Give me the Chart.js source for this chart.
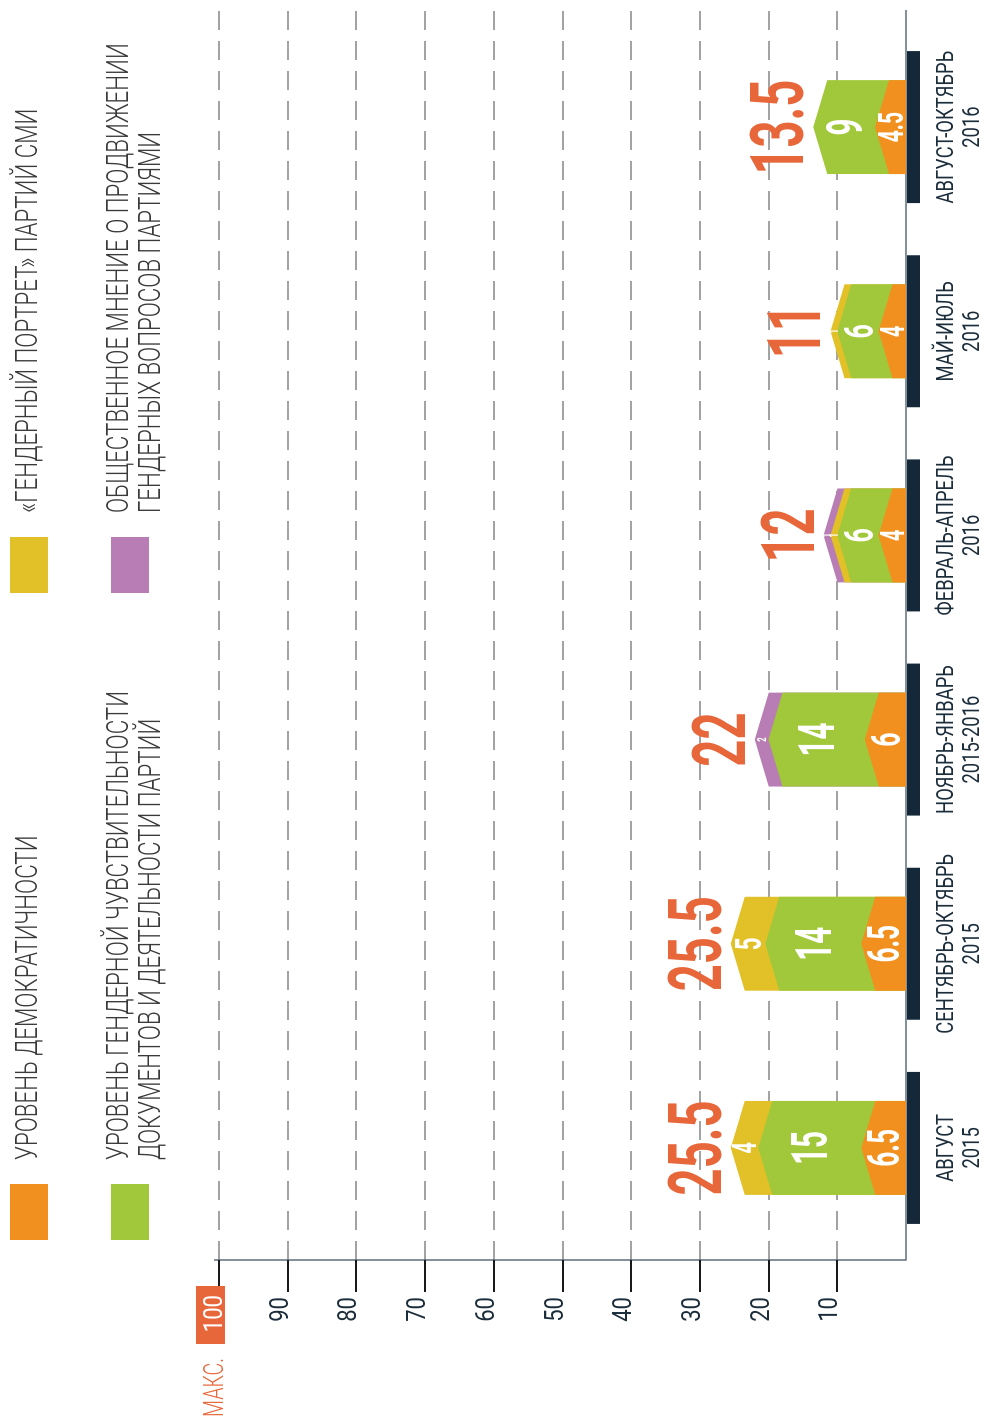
<!DOCTYPE html>
<html lang="ru">
<head>
<meta charset="utf-8">
<title>Гендерный мониторинг партий</title>
<script src="https://cdn.jsdelivr.net/npm/chart.js@4.4.1/dist/chart.umd.min.js"></script>
<style>
  html, body { margin: 0; padding: 0; background: #fff; }
  body { width: 981px; height: 1419px; overflow: hidden; position: relative; }
  /* the chart is drawn upright, then turned a quarter to the left */
  #stage {
    position: absolute; left: 0; top: 0;
    width: 1419px; height: 981px;
    transform-origin: 0 0;
    transform: translateY(1419px) rotate(-90deg);
  }
</style>
</head>
<body>
<div id="stage"><canvas id="chart" width="1419" height="981"></canvas></div>
<script>
/* ---- data ---- */
const periods = [
    ['АВГУСТ', '2015'],
    ['СЕНТЯБРЬ-ОКТЯБРЬ', '2015'],
    ['НОЯБРЬ-ЯНВАРЬ', '2015-2016'],
    ['ФЕВРАЛЬ-АПРЕЛЬ', '2016'],
    ['МАЙ-ИЮЛЬ', '2016'],
    ['АВГУСТ-ОКТЯБРЬ', '2016'],
];
const democracy   = [6.5, 6.5, 6, 4, 4, 4.5];
const sensitivity = [15, 14, 14, 6, 6, 9];
const portrait    = [4, 5, null, 1, 1, null];
const opinion     = [null, null, 2, 1, null, null];
const totals      = [25.5, 25.5, 22, 12, 11, 13.5];
const valueTicks  = [10, 20, 30, 40, 50, 60, 70, 80, 90, 100];
const seriesNames = [
    ['УРОВЕНЬ ДЕМОКРАТИЧНОСТИ'],
    ['УРОВЕНЬ ГЕНДЕРНОЙ ЧУВСТВИТЕЛЬНОСТИ', 'ДОКУМЕНТОВ И ДЕЯТЕЛЬНОСТИ ПАРТИЙ'],
    ['«ГЕНДЕРНЫЙ ПОРТРЕТ» ПАРТИЙ СМИ'],
    ['ОБЩЕСТВЕННОЕ МНЕНИЕ О ПРОДВИЖЕНИИ', 'ГЕНДЕРНЫХ ВОПРОСОВ ПАРТИЯМИ'],
];

const COL = {
    orange: '#f1901f', green: '#a1c83a', yellow: '#e2c027', purple: '#b77db4',
    navy: '#14283a', red: '#e8673a', ink: '#1b2d3b', grid: '#a3a3a3',
    axis: '#5e6e79', text: '#3a3a3a',
};
const SERIES_COLOURS = [COL.orange, COL.green, COL.yellow, COL.purple];
const FONT = 'Roboto, "Noto Sans", sans-serif';
const CHEVRON = 14;

// text squeezed sideways, the original uses a condensed face
function ctext(ctx, str, x, y, { size, weight = 400, sx = 0.75, color, align = 'left' }) {
    ctx.save();
    ctx.font = `${weight} ${size}px ${FONT}`;
    ctx.fillStyle = color;
    ctx.textBaseline = 'alphabetic';
    ctx.textAlign = 'left';
    const w = ctx.measureText(str).width * sx;
    const x0 = align === 'center' ? x - w / 2 : align === 'right' ? x - w : x;
    ctx.translate(x0, y);
    ctx.scale(sx, 1);
    ctx.fillText(str, 0, 0);
    ctx.restore();
}

const frame = {
    id: 'frame',
    beforeDraw(chart) {
        const { ctx, chartArea: a, scales: { x, y } } = chart;
        const axisX = a.left - 10, farX = a.right + 15, zero = y.getPixelForValue(0);
        ctx.save();
        ctx.fillStyle = '#fff';
        ctx.fillRect(0, 0, chart.width, chart.height);

        /* legend */
        seriesNames.forEach((lines, i) => {
            const lx = i < 2 ? 179 : 826, ly = i % 2 ? 111 : 10;
            ctx.fillStyle = SERIES_COLOURS[i];
            ctx.fillRect(lx, ly, 56, 38);
            const base = lines.length > 1 ? ly + 17 : ly + 27;
            lines.forEach((t, k) => ctext(ctx, t, lx + 80, base + k * 32,
                { size: 31, weight: 300, sx: 0.72, color: COL.text }));
        });

        /* dashed grid */
        ctx.strokeStyle = COL.grid;
        ctx.lineWidth = 2;
        ctx.setLineDash([19, 11]);
        valueTicks.forEach((v) => {
            const py = Math.round(y.getPixelForValue(v));
            ctx.beginPath(); ctx.moveTo(axisX, py); ctx.lineTo(farX, py); ctx.stroke();
        });
        ctx.setLineDash([]);

        /* axes */
        ctx.strokeStyle = COL.axis;
        ctx.lineWidth = 1.5;
        ctx.beginPath();
        ctx.moveTo(axisX, y.getPixelForValue(100) - 5);
        ctx.lineTo(axisX, zero);
        ctx.lineTo(farX, zero);
        ctx.stroke();

        /* ticks + labels */
        ctx.strokeStyle = '#1a1a1a';
        ctx.lineWidth = 2;
        valueTicks.forEach((v) => {
            const py = Math.round(y.getPixelForValue(v));
            ctx.beginPath(); ctx.moveTo(axisX - 32, py); ctx.lineTo(axisX, py); ctx.stroke();
            if (v === 100) {
                ctx.fillStyle = COL.red;
                ctx.fillRect(axisX - 84, py - 23, 58, 29);
                ctext(ctx, '100', axisX - 35, py + 3, { size: 26, sx: 0.85, color: '#fff', align: 'right' });
                ctext(ctx, 'МАКС.', 2, py + 4, { size: 28, weight: 300, sx: 0.7, color: COL.red });
            } else {
                ctext(ctx, String(v), axisX - 37, py, { size: 26, sx: 0.85, color: COL.ink, align: 'right' });
            }
        });

        /* category plates + names */
        periods.forEach((p, i) => {
            const cx = x.getPixelForValue(i);
            ctx.fillStyle = COL.navy;
            ctx.fillRect(cx - 76, zero + 1, 152, 13);
            p.forEach((t, k) => ctext(ctx, t, cx, zero + 47 + k * 26,
                { size: 23, sx: 0.8, color: COL.ink, align: 'center' }));
        });
        ctx.restore();
    },
};

const chevrons = {
    id: 'chevrons',
    beforeDatasetsDraw(chart) {
        const { ctx, scales: { y } } = chart;
        const zero = y.getPixelForValue(0);
        ctx.save();
        periods.forEach((p, j) => {
            const segs = [];
            chart.data.datasets.forEach((ds, i) => {
                if (ds.data[j] == null) return;
                segs.push({ el: chart.getDatasetMeta(i).data[j], colour: ds.backgroundColor, v: ds.data[j] });
            });
            // top segment first, each one runs down to the axis, lower ones paint over
            for (let k = segs.length - 1; k >= 0; k--) {
                const { el, colour } = segs[k];
                const l = el.x - el.width / 2, r = el.x + el.width / 2;
                ctx.fillStyle = colour;
                ctx.beginPath();
                ctx.moveTo(l, el.y + CHEVRON);
                ctx.lineTo(el.x, el.y);
                ctx.lineTo(r, el.y + CHEVRON);
                ctx.lineTo(r, zero);
                ctx.lineTo(l, zero);
                ctx.closePath();
                ctx.fill();
            }
            segs.forEach(({ el, v }) => {
                const h = el.base - el.y;
                const cap = h < 16 ? 9 : Math.min(35, h * 0.45 + 11);
                const size = cap / 0.711;
                ctext(ctx, String(v), el.x, (el.y + el.base) / 2 + cap / 2,
                    { size, weight: 700, sx: 0.6, color: '#fff', align: 'center' });
            });
            const top = y.getPixelForValue(totals[j]);
            ctext(ctx, String(totals[j]), segs[0].el.x, top - 10,
                { size: 75, weight: 700, sx: 0.63, color: COL.red, align: 'center' });
        });
        ctx.restore();
        return false;
    },
};

new Chart(document.getElementById('chart'), {
    type: 'bar',
    data: {
        labels: periods,
        datasets: [democracy, sensitivity, portrait, opinion].map((d, i) => ({
            label: seriesNames[i].join(' '),
            data: d,
            backgroundColor: SERIES_COLOURS[i],
            barPercentage: 0.46,
            categoryPercentage: 1,
        })),
    },
    options: {
        responsive: false,
        animation: false,
        layout: { padding: { left: 169, right: 25, top: 219, bottom: 75 } },
        plugins: { legend: { display: false }, tooltip: { enabled: false } },
        scales: {
            x: { stacked: true, display: false },
            y: { stacked: true, display: false, min: 0, max: 100 },
        },
    },
    plugins: [frame, chevrons],
});
</script>
</body>
</html>
